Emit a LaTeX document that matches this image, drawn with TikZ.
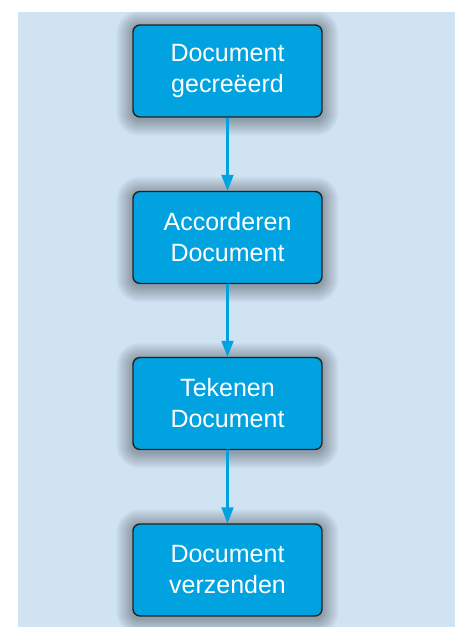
\documentclass[tikz,border=0pt]{standalone}
\usepackage{fontspec}
\setmainfont{Liberation Sans}
\usetikzlibrary{arrows.meta,backgrounds}
\definecolor{panel}{HTML}{CFE3F3}
\definecolor{stepfill}{HTML}{00A3E0}
\definecolor{stepedge}{HTML}{222222}
\tikzset{
  stepbox/.style={draw=stepedge, line width=1.4pt, fill=stepfill, rounded corners=7pt,
    minimum width=189pt, minimum height=92pt, align=center, text=white,
    font=\fontsize{25}{31}\selectfont},
  flow/.style={draw=stepfill, line width=2.2pt, -{Triangle[length=16pt, width=12pt]}}
}
% soft shadow: stacked translucent rounded rectangles around a node
\newcommand{\softshade}[1]{%
  \foreach \r in {1,...,16}{%
    \fill[black, opacity=0.018, rounded corners=7pt+\r pt]
      ([xshift=-\r pt, yshift=-\r pt-2pt]#1.south west)
      rectangle ([xshift=\r pt, yshift=\r pt-2pt]#1.north east);
  }%
}
\begin{document}
\begin{tikzpicture}[x=1pt,y=1pt]
  \useasboundingbox (0,0) rectangle (455,-627);
  \node[stepbox] (s1) at (227.5,-71) {Document\\gecreëerd};
  \node[stepbox] (s2) at (227.5,-237.5) {Accorderen\\Document};
  \node[stepbox] (s3) at (227.5,-403.5) {Tekenen\\Document};
  \node[stepbox] (s4) at (227.5,-570) {Document\\verzenden};
  \draw[flow] (s1) -- (s2);
  \draw[flow] (s2) -- (s3);
  \draw[flow] (s3) -- (s4);
  \begin{scope}[on background layer]
    \fill[panel] (18,-12) rectangle (455,-627);
    \softshade{s1}
    \softshade{s2}
    \softshade{s3}
    \softshade{s4}
  \end{scope}
\end{tikzpicture}
\end{document}
